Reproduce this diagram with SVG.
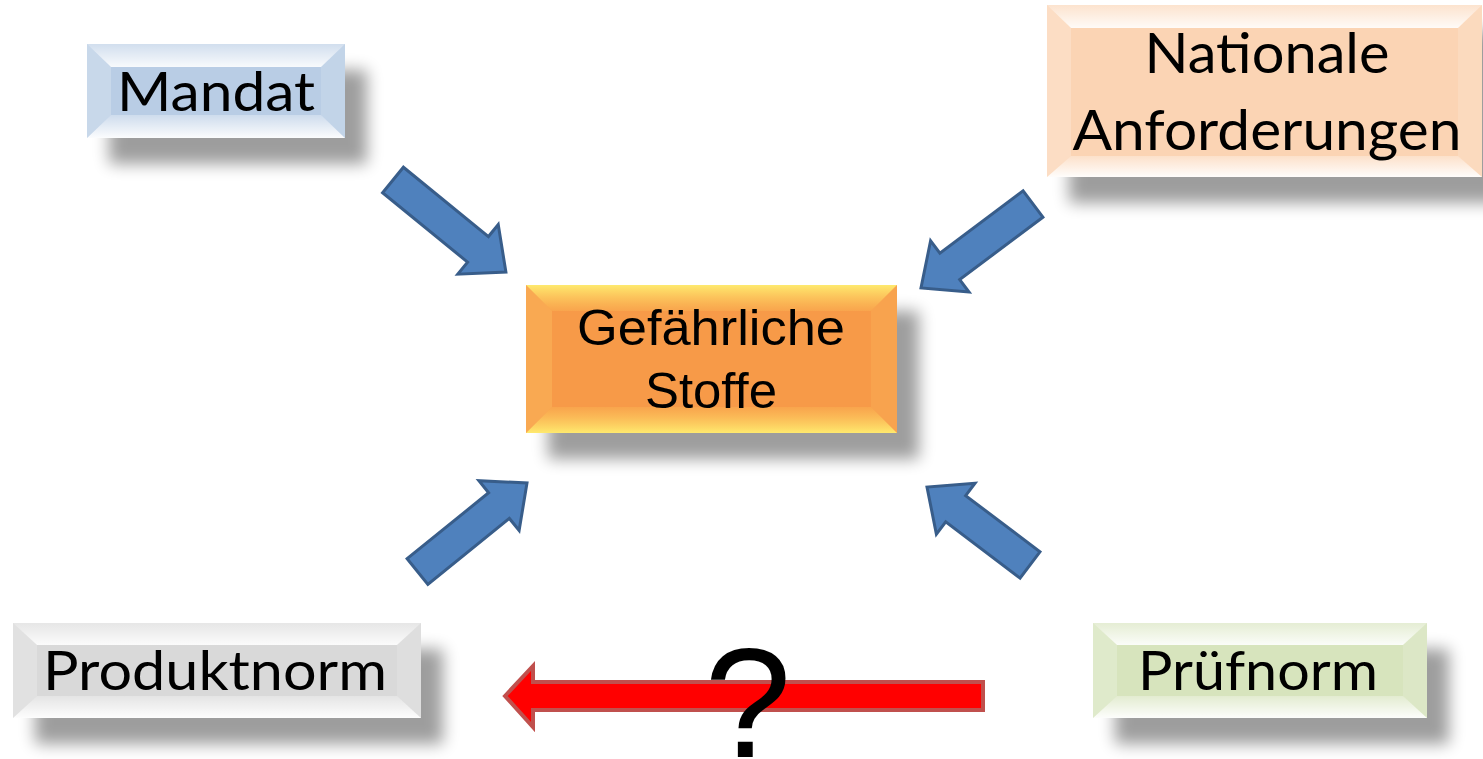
<svg xmlns="http://www.w3.org/2000/svg" width="1483" height="759" viewBox="0 0 1483 759">
<defs>
<filter id="sh" x="-20%" y="-30%" width="140%" height="170%"><feGaussianBlur stdDeviation="8"/></filter>
<linearGradient id="gTop" x1="0" y1="0" x2="0" y2="1"><stop offset="0" stop-color="#fff" stop-opacity="0.35"/><stop offset="1" stop-color="#fff" stop-opacity="0.9"/></linearGradient>
<linearGradient id="gBot" x1="0" y1="0" x2="0" y2="1"><stop offset="0" stop-color="#fff" stop-opacity="0.3"/><stop offset="1" stop-color="#fff" stop-opacity="0.95"/></linearGradient>
<linearGradient id="yTop" x1="0" y1="0" x2="0" y2="1"><stop offset="0" stop-color="#FFEE70" stop-opacity="0.95"/><stop offset="1" stop-color="#FFD060" stop-opacity="0.2"/></linearGradient>
<linearGradient id="yBot" x1="0" y1="0" x2="0" y2="1"><stop offset="0" stop-color="#FFD060" stop-opacity="0.2"/><stop offset="1" stop-color="#FFEE70" stop-opacity="0.95"/></linearGradient>
</defs>
<style>
.shd{fill:#000;opacity:.38;filter:url(#sh)}
.bt{fill:url(#gTop)}
.bb{fill:url(#gBot)}
.bl{fill:#fff;opacity:.22}
.br{fill:#fff;opacity:.14}
.ybt{fill:url(#yTop)}
.ybb{fill:url(#yBot)}
.ybl{fill:#FFD870;opacity:.25}
.ybr{fill:#FFD870;opacity:.15}
.lbl{font-family:Lato,"Liberation Sans",sans-serif;fill:#000;text-anchor:middle}
.ctr{font-family:"Liberation Sans",Arial,sans-serif;fill:#000;text-anchor:middle}
.blue{fill:#4F81BD;stroke:#385D8A;stroke-width:3;stroke-linejoin:miter}
.red{fill:#FF0000;stroke:#C0504D;stroke-width:4}
</style>

<g id="mandat">
<rect class="shd" x="109" y="70" width="258" height="94"/>
<rect x="87" y="44" width="258" height="94" fill="#B9CDE5"/>
<polygon class="bt" points="87,44 345,44 321,67 111,67"/>
<polygon class="bb" points="111,115 321,115 345,138 87,138"/>
<polygon class="bl" points="87,44 111,67 111,115 87,138"/>
<polygon class="br" points="345,44 345,138 321,115 321,67"/>
<text class="lbl" x="216" y="111" font-size="54" textLength="198" lengthAdjust="spacingAndGlyphs">Mandat</text>
</g>

<g id="nationale">
<rect class="shd" x="1069" y="31" width="435" height="172"/>
<rect x="1047" y="5" width="435" height="172" fill="#FBD4B4"/>
<polygon class="bt" points="1047,5 1482,5 1458,28 1071,28"/>
<polygon class="bb" points="1071,156 1458,156 1482,177 1047,177"/>
<polygon class="bl" points="1047,5 1071,28 1071,156 1047,177"/>
<polygon class="br" points="1482,5 1482,177 1458,156 1458,28"/>
<text class="lbl" x="1267" y="73" font-size="56" textLength="245" lengthAdjust="spacingAndGlyphs">Nationale</text>
<text class="lbl" x="1267" y="150" font-size="56" textLength="389" lengthAdjust="spacingAndGlyphs">Anforderungen</text>
</g>

<g id="stoffe">
<rect class="shd" x="548" y="311" width="371" height="148"/>
<rect x="526" y="285" width="371" height="148" fill="#F79A48"/>
<polygon class="ybt" points="526,285 897,285 871,311 552,311"/>
<polygon class="ybb" points="552,407 871,407 897,433 526,433"/>
<polygon class="ybl" points="526,285 552,311 552,407 526,433"/>
<polygon class="ybr" points="897,285 897,433 871,407 871,311"/>
<text class="ctr" x="711" y="345" font-size="50" textLength="268" lengthAdjust="spacingAndGlyphs">Gefährliche</text>
<text class="ctr" x="711" y="408" font-size="50" textLength="132" lengthAdjust="spacingAndGlyphs">Stoffe</text>
</g>

<g id="produktnorm">
<rect class="shd" x="35" y="649" width="408" height="95"/>
<rect x="13" y="623" width="408" height="95" fill="#D9D9D9"/>
<polygon class="bt" points="13,623 421,623 397,645 37,645"/>
<polygon class="bb" points="37,696 397,696 421,718 13,718"/>
<polygon class="bl" points="13,623 37,645 37,696 13,718"/>
<polygon class="br" points="421,623 421,718 397,696 397,645"/>
<text class="lbl" x="215" y="690" font-size="54" textLength="344" lengthAdjust="spacingAndGlyphs">Produktnorm</text>
</g>

<g id="pruefnorm">
<rect class="shd" x="1115" y="649" width="334" height="95"/>
<rect x="1093" y="623" width="334" height="95" fill="#D7E4BD"/>
<polygon class="bt" points="1093,623 1427,623 1403,645 1117,645"/>
<polygon class="bb" points="1117,696 1403,696 1427,718 1093,718"/>
<polygon class="bl" points="1093,623 1117,645 1117,696 1093,718"/>
<polygon class="br" points="1427,623 1427,718 1403,696 1403,645"/>
<text class="lbl" x="1258" y="690" font-size="54" textLength="240" lengthAdjust="spacingAndGlyphs">Prüfnorm</text>
</g>

<g id="connectors">
<path class="blue" transform="translate(393,180) rotate(39.2)" d="M0,-16.5 L109.7,-16.5 L109.7,-32 L145.7,0 L109.7,32 L109.7,16.5 L0,16.5 Z"/>
<path class="blue" transform="translate(1033,204) rotate(143.13)" d="M0,-16.5 L104,-16.5 L104,-32 L140,0 L104,32 L104,16.5 L0,16.5 Z"/>
<path class="blue" transform="translate(417.5,571.5) rotate(-38.95)" d="M0,-16.5 L104.8,-16.5 L104.8,-32 L140.8,0 L104.8,32 L104.8,16.5 L0,16.5 Z"/>
<path class="blue" transform="translate(1030,565) rotate(-142.87)" d="M0,-16.5 L93.2,-16.5 L93.2,-32 L129.2,0 L93.2,32 L93.2,16.5 L0,16.5 Z"/>
<path class="red" d="M505,696 L533,666 L533,682 L983,682 L983,710 L533,710 L533,727 Z"/>
<text class="ctr" x="748" y="757" font-size="156">?</text>
</g>
</svg>
